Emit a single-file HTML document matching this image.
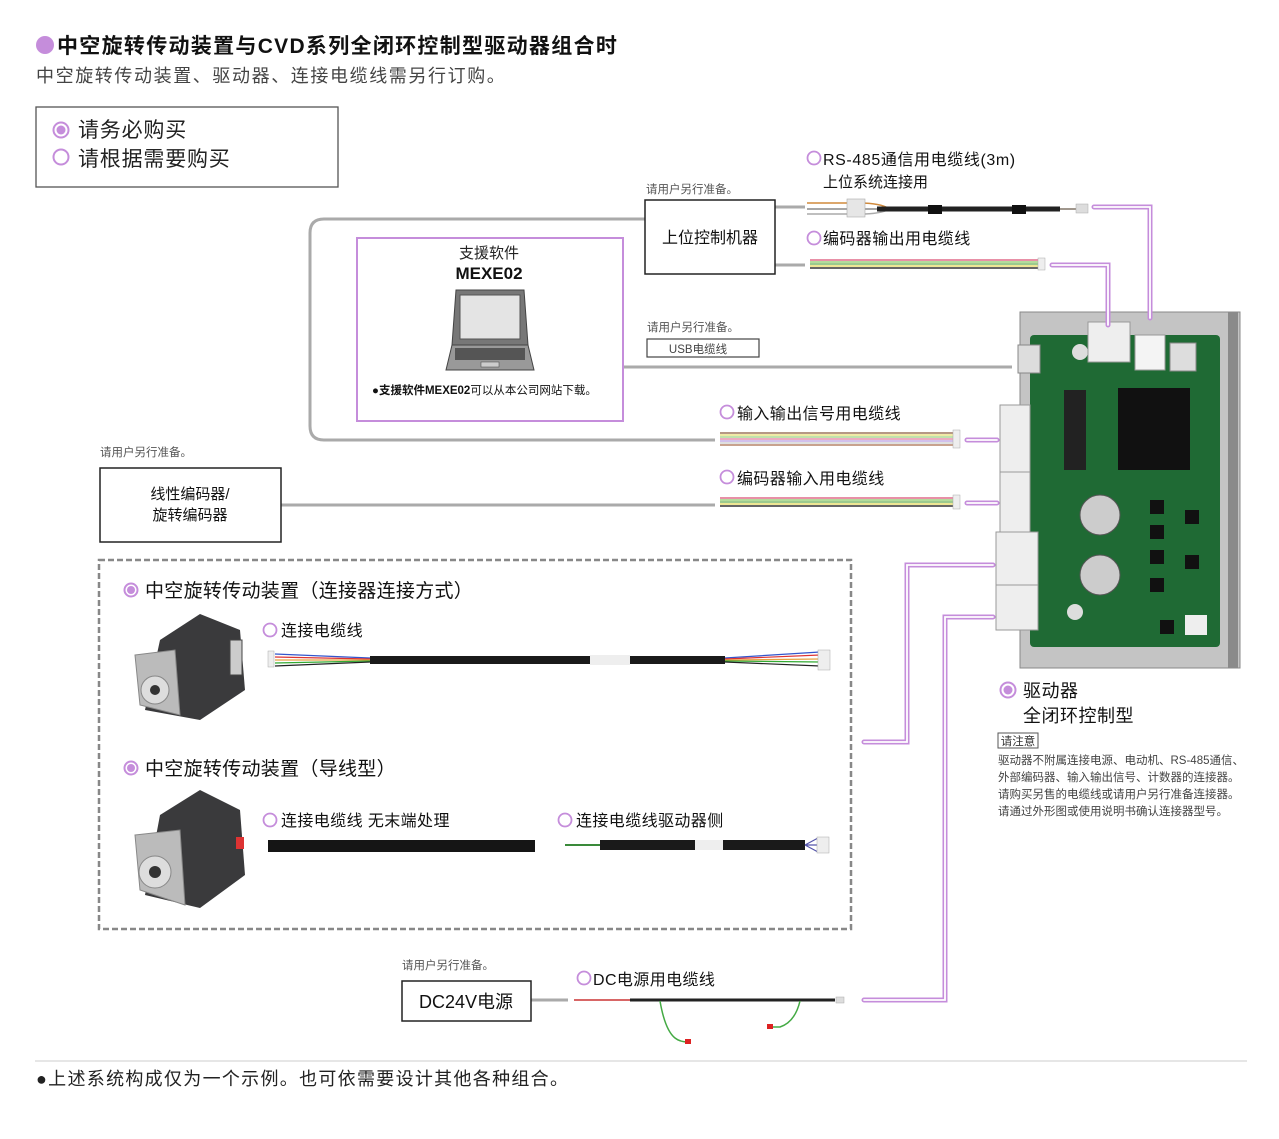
<!DOCTYPE html>
<html><head><meta charset="utf-8"><style>
html,body{margin:0;padding:0;background:#fff;}
svg{display:block;font-family:"Liberation Sans","Noto Sans CJK SC",sans-serif;}
</style></head><body>
<svg width="1279" height="1139" viewBox="0 0 1279 1139" xmlns="http://www.w3.org/2000/svg">
<!-- Title -->
<circle cx="45" cy="45" r="9" fill="#c58ddb"/>
<text x="57" y="53" font-size="21" font-weight="bold" fill="#111" letter-spacing="1.3">中空旋转传动装置与CVD系列全闭环控制型驱动器组合时</text>
<text x="36" y="82" font-size="18" fill="#444" letter-spacing="1.6">中空旋转传动装置、驱动器、连接电缆线需另行订购。</text>

<!-- Legend -->
<rect x="36" y="107" width="302" height="80" fill="none" stroke="#555" stroke-width="1.3"/>
<circle cx="61" cy="130" r="7.5" fill="none" stroke="#c58ddb" stroke-width="2"/><circle cx="61" cy="130" r="4.5" fill="#c58ddb"/>
<text x="78" y="137" font-size="21" fill="#222" letter-spacing="0.8">请务必购买</text>
<circle cx="61" cy="157" r="7.5" fill="none" stroke="#c58ddb" stroke-width="2"/>
<text x="78" y="166" font-size="21" fill="#222" letter-spacing="0.8">请根据需要购买</text>

<!-- grey connection lines -->
<g stroke="#aaa" stroke-width="3" fill="none">
<path d="M645 219 H324 Q310 219 310 233 V426 Q310 440 324 440 H715"/>
<path d="M623 367 H1012"/>
<path d="M281 505 H715"/>
<path d="M775 207 H805 M775 265 H805"/>
<path d="M531 1000 H568"/>
</g>

<!-- Software box -->
<rect x="357" y="238" width="266" height="183" fill="#fff" stroke="#c58ddb" stroke-width="2"/>
<text x="489" y="258" font-size="15" text-anchor="middle" fill="#222">支援软件</text>
<text x="489" y="279" font-size="17" font-weight="bold" text-anchor="middle" fill="#111">MEXE02</text>
<path d="M456 290 H524 L528 345 H452 Z" fill="#777" stroke="#444"/>
<rect x="460" y="295" width="60" height="44" fill="#e4e4e4" stroke="#555"/>
<path d="M452 345 H528 L534 370 H446 Z" fill="#999" stroke="#444"/>
<rect x="455" y="348" width="70" height="12" fill="#555"/>
<rect x="481" y="362" width="18" height="5" fill="#ccc" stroke="#444" stroke-width=".5"/>
<text x="372" y="394" font-size="11.5" fill="#111"><tspan font-weight="bold">●支援软件MEXE02</tspan>可以从本公司网站下载。</text>

<!-- upper controller -->
<text x="646" y="193" font-size="11.5" fill="#555">请用户另行准备。</text>
<rect x="645" y="200" width="130" height="74" fill="#fff" stroke="#222" stroke-width="1.5"/>
<text x="710" y="243" font-size="16" text-anchor="middle" fill="#111">上位控制机器</text>

<!-- RS485 -->
<circle cx="814" cy="158" r="6.5" fill="none" stroke="#c58ddb" stroke-width="1.8"/>
<text x="823" y="165" font-size="16" fill="#111" letter-spacing="0.6">RS-485通信用电缆线(3m)</text>
<text x="823" y="187" font-size="15" fill="#111">上位系统连接用</text>
<g fill="none">
<path d="M807 203 H860 Q880 203 890 209 H1085" stroke="#d08a3c" stroke-width="1.5"/>
<path d="M807 209 H860 H1085" stroke="#888" stroke-width="1.5"/>
<path d="M807 214 H860 Q880 214 890 209" stroke="#aaa" stroke-width="1.5"/>
<path d="M877 209 H1060" stroke="#222" stroke-width="5"/>
</g>
<rect x="847" y="199" width="18" height="18" fill="#e6e6e6" stroke="#aaa" stroke-width=".6"/>
<rect x="928" y="205" width="14" height="9" fill="#111"/><rect x="1012" y="205" width="14" height="9" fill="#111"/>
<rect x="1076" y="204" width="12" height="9" fill="#ddd" stroke="#aaa" stroke-width=".5"/>

<!-- encoder out -->
<circle cx="814" cy="238" r="6.5" fill="none" stroke="#c58ddb" stroke-width="1.8"/>
<text x="823" y="244" font-size="16" fill="#111" letter-spacing="0.4">编码器输出用电缆线</text>
<g stroke-width="1.4">
<line x1="810" y1="260" x2="1040" y2="260" stroke="#e06b8a"/>
<line x1="810" y1="262" x2="1040" y2="262" stroke="#9ad07a"/>
<line x1="810" y1="264" x2="1040" y2="264" stroke="#7bb86a"/>
<line x1="810" y1="266" x2="1040" y2="266" stroke="#e8de70"/>
<line x1="810" y1="268" x2="1040" y2="268" stroke="#333"/>
</g>
<rect x="1038" y="258" width="7" height="12" fill="#eee" stroke="#aaa" stroke-width=".5"/>

<!-- USB -->
<text x="647" y="331" font-size="11.5" fill="#555">请用户另行准备。</text>
<rect x="647" y="339" width="112" height="18" fill="#fff" stroke="#444" stroke-width="1.2"/>
<text x="698" y="353" font-size="11.5" text-anchor="middle" fill="#444">USB电缆线</text>

<!-- IO cable -->
<circle cx="727" cy="412" r="6.5" fill="none" stroke="#c58ddb" stroke-width="1.8"/>
<text x="737" y="419" font-size="16" fill="#111" letter-spacing="0.4">输入输出信号用电缆线</text>
<g stroke-width="1.3">
<line x1="720" y1="433" x2="955" y2="433" stroke="#8b5a3c"/>
<line x1="720" y1="435" x2="955" y2="435" stroke="#e8de70"/>
<line x1="720" y1="437" x2="955" y2="437" stroke="#9ad07a"/>
<line x1="720" y1="439" x2="955" y2="439" stroke="#e07b9a"/>
<line x1="720" y1="441" x2="955" y2="441" stroke="#b79ae0"/>
<line x1="720" y1="443" x2="955" y2="443" stroke="#ccc"/>
<line x1="720" y1="445" x2="955" y2="445" stroke="#a86b4a"/>
</g>
<rect x="953" y="430" width="7" height="18" fill="#eee" stroke="#aaa" stroke-width=".5"/>

<!-- encoder in -->
<circle cx="727" cy="477" r="6.5" fill="none" stroke="#c58ddb" stroke-width="1.8"/>
<text x="737" y="484" font-size="16" fill="#111" letter-spacing="0.4">编码器输入用电缆线</text>
<g stroke-width="1.4">
<line x1="720" y1="498" x2="955" y2="498" stroke="#e06b8a"/>
<line x1="720" y1="500" x2="955" y2="500" stroke="#9ad07a"/>
<line x1="720" y1="502" x2="955" y2="502" stroke="#7bb86a"/>
<line x1="720" y1="504" x2="955" y2="504" stroke="#e8de70"/>
<line x1="720" y1="506" x2="955" y2="506" stroke="#333"/>
</g>
<rect x="953" y="495" width="7" height="14" fill="#eee" stroke="#aaa" stroke-width=".5"/>

<!-- linear encoder -->
<text x="100" y="456" font-size="11.5" fill="#555">请用户另行准备。</text>
<rect x="100" y="468" width="181" height="74" fill="#fff" stroke="#222" stroke-width="1.5"/>
<text x="190" y="499" font-size="15" text-anchor="middle" fill="#111">线性编码器/</text>
<text x="190" y="520" font-size="15" text-anchor="middle" fill="#111">旋转编码器</text>

<!-- Driver board -->
<path d="M1020 312 H1240 V668 H1020 Z" fill="#c4c4c4" stroke="#888"/>
<rect x="1228" y="312" width="10" height="356" fill="#8a8a8a"/>
<rect x="1030" y="335" width="190" height="312" fill="#1f6a34" rx="4"/>
<rect x="1118" y="388" width="72" height="82" fill="#111"/>
<rect x="1064" y="390" width="22" height="80" fill="#222"/>
<circle cx="1100" cy="515" r="20" fill="#ccc" stroke="#555"/>
<circle cx="1100" cy="575" r="20" fill="#ccc" stroke="#555"/>
<circle cx="1080" cy="352" r="8" fill="#ddd"/><circle cx="1075" cy="612" r="8" fill="#ddd"/>
<rect x="1088" y="322" width="42" height="40" fill="#eee" stroke="#999"/>
<rect x="1135" y="335" width="30" height="35" fill="#f4f4f4" stroke="#999"/>
<rect x="1170" y="343" width="26" height="28" fill="#ddd" stroke="#888"/>
<rect x="1018" y="345" width="22" height="28" fill="#ddd" stroke="#888"/>
<g fill="#111"><rect x="1150" y="500" width="14" height="14"/><rect x="1150" y="525" width="14" height="14"/><rect x="1150" y="550" width="14" height="14"/><rect x="1150" y="578" width="14" height="14"/><rect x="1185" y="510" width="14" height="14"/><rect x="1185" y="555" width="14" height="14"/><rect x="1160" y="620" width="14" height="14"/></g>
<rect x="1185" y="615" width="22" height="20" fill="#eee"/>
<g fill="#eee" stroke="#999"><rect x="1000" y="405" width="30" height="80"/><rect x="1000" y="472" width="30" height="62"/><rect x="996" y="532" width="42" height="62"/><rect x="996" y="585" width="42" height="45"/></g>

<!-- Driver label -->
<circle cx="1008" cy="690" r="7.5" fill="none" stroke="#c58ddb" stroke-width="2"/><circle cx="1008" cy="690" r="4.5" fill="#c58ddb"/>
<text x="1023" y="697" font-size="18" fill="#111" letter-spacing="0.5">驱动器</text>
<text x="1023" y="722" font-size="18" fill="#111" letter-spacing="0.5">全闭环控制型</text>
<rect x="998" y="733" width="40" height="15" fill="#fff" stroke="#555" stroke-width="1"/>
<text x="1018" y="745" font-size="11.5" text-anchor="middle" fill="#333">请注意</text>
<g font-size="11.5" fill="#444">
<text x="998" y="764">驱动器不附属连接电源、电动机、RS-485通信、</text>
<text x="998" y="781">外部编码器、输入输出信号、计数器的连接器。</text>
<text x="998" y="798">请购买另售的电缆线或请用户另行准备连接器。</text>
<text x="998" y="815">请通过外形图或使用说明书确认连接器型号。</text>
</g>

<!-- purple tubes -->
<g fill="none" stroke-linecap="round">
<g stroke="#c58ddb" stroke-width="5">
<path d="M1094 207 H1150 V318"/><path d="M1052 265 H1108 V325"/>
<path d="M967 440 H997"/><path d="M967 503 H997"/>
<path d="M864 742 H907 V565 H993"/><path d="M864 1000 H945 V617 H993"/>
</g>
<g stroke="#fff" stroke-width="1.8">
<path d="M1094 207 H1150 V318"/><path d="M1052 265 H1108 V325"/>
<path d="M967 440 H997"/><path d="M967 503 H997"/>
<path d="M864 742 H907 V565 H993"/><path d="M864 1000 H945 V617 H993"/>
</g>
</g>

<!-- dashed box -->
<rect x="99" y="560" width="752" height="369" fill="none" stroke="#888" stroke-width="2.5" stroke-dasharray="6 3"/>
<circle cx="131" cy="590" r="6.5" fill="none" stroke="#c58ddb" stroke-width="2"/><circle cx="131" cy="590" r="4" fill="#c58ddb"/>
<text x="145" y="597" font-size="19" fill="#111" letter-spacing="0.3">中空旋转传动装置（连接器连接方式）</text>
<circle cx="131" cy="768" r="6.5" fill="none" stroke="#c58ddb" stroke-width="2"/><circle cx="131" cy="768" r="4" fill="#c58ddb"/>
<text x="145" y="775" font-size="19" fill="#111" letter-spacing="0.3">中空旋转传动装置（导线型）</text>

<!-- motor 1 -->
<path d="M160 640 L200 614 L240 630 L245 690 L200 720 L145 710 Z" fill="#3a3a3c"/>
<path d="M135 655 L175 650 L180 715 L140 705 Z" fill="#bbb" stroke="#888"/>
<circle cx="155" cy="690" r="14" fill="#ddd" stroke="#888"/><circle cx="155" cy="690" r="5" fill="#333"/>
<rect x="230" y="640" width="12" height="35" fill="#ccc" stroke="#444"/>
<!-- motor 2 -->
<path d="M160 815 L200 790 L240 810 L245 875 L200 908 L145 895 Z" fill="#3a3a3c"/>
<path d="M135 835 L180 830 L185 905 L140 890 Z" fill="#bbb" stroke="#888"/>
<circle cx="155" cy="872" r="16" fill="#ddd" stroke="#888"/><circle cx="155" cy="872" r="6" fill="#333"/>
<rect x="236" y="837" width="8" height="12" fill="#d33"/>

<!-- cable 1 -->
<circle cx="270" cy="630" r="6.5" fill="none" stroke="#c58ddb" stroke-width="1.8"/>
<text x="281" y="636" font-size="16" fill="#111" letter-spacing="0.4">连接电缆线</text>
<g stroke-width="1.2">
<path d="M275 654 L370 658 M725 658 L820 652" stroke="#3355cc"/>
<path d="M275 657 L370 659 M725 659 L820 655" stroke="#d33"/>
<path d="M275 660 L370 660 M725 660 L820 659" stroke="#e8a040"/>
<path d="M275 663 L370 661 M725 661 L820 662" stroke="#3a3"/>
<path d="M275 666 L370 662 M725 662 L820 666" stroke="#222"/>
</g>
<rect x="370" y="656" width="355" height="8" fill="#1a1a1a"/>
<rect x="590" y="655" width="40" height="10" fill="#eee"/>
<rect x="268" y="651" width="6" height="16" fill="#eee" stroke="#aaa" stroke-width=".5"/>
<rect x="818" y="650" width="12" height="20" fill="#eee" stroke="#aaa" stroke-width=".5"/>

<!-- cable 2 -->
<circle cx="270" cy="820" r="6.5" fill="none" stroke="#c58ddb" stroke-width="1.8"/>
<text x="281" y="826" font-size="16" fill="#111" letter-spacing="0.4">连接电缆线 无末端处理</text>
<rect x="268" y="840" width="267" height="12" fill="#151515"/>
<circle cx="565" cy="820" r="6.5" fill="none" stroke="#c58ddb" stroke-width="1.8"/>
<text x="576" y="826" font-size="16" fill="#111" letter-spacing="0.4">连接电缆线驱动器侧</text>
<path d="M565 845 H600" stroke="#3a8a3a" stroke-width="2"/>
<rect x="600" y="840" width="205" height="10" fill="#1a1a1a"/>
<rect x="695" y="840" width="28" height="10" fill="#eee"/>
<path d="M805 845 L818 838 M805 845 L818 852 M805 845 L818 845" stroke="#55a" stroke-width="1.2"/>
<rect x="817" y="837" width="12" height="16" fill="#eee" stroke="#aaa" stroke-width=".5"/>

<!-- DC power -->
<text x="402" y="969" font-size="11.5" fill="#555">请用户另行准备。</text>
<rect x="402" y="981" width="129" height="40" fill="#fff" stroke="#222" stroke-width="1.5"/>
<text x="466" y="1008" font-size="18" text-anchor="middle" fill="#111">DC24V电源</text>
<circle cx="584" cy="978" r="6.5" fill="none" stroke="#c58ddb" stroke-width="1.8"/>
<text x="593" y="985" font-size="16" fill="#111" letter-spacing="0.4">DC电源用电缆线</text>
<path d="M574 1000 H630" stroke="#c33" stroke-width="1.5"/>
<path d="M630 1000 H835" stroke="#222" stroke-width="3"/>
<path d="M660 1001 Q665 1030 675 1038 Q680 1042 688 1042" stroke="#4a4" stroke-width="1.5" fill="none"/>
<rect x="685" y="1039" width="6" height="5" fill="#d22"/>
<path d="M800 1001 Q795 1022 780 1027 H772" stroke="#4a4" stroke-width="1.5" fill="none"/>
<rect x="767" y="1024" width="6" height="5" fill="#d22"/>
<rect x="836" y="997" width="8" height="6" fill="#ddd" stroke="#aaa" stroke-width=".5"/>

<!-- footer -->
<line x1="35" y1="1061" x2="1247" y2="1061" stroke="#ccc" stroke-width="1"/>
<text x="36" y="1085" font-size="18" fill="#222" letter-spacing="1.3">●上述系统构成仅为一个示例。也可依需要设计其他各种组合。</text>
</svg>
</body></html>
